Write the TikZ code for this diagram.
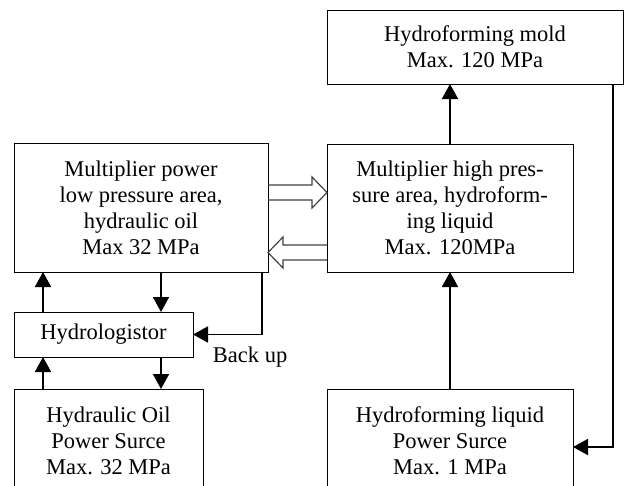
\documentclass[tikz,border=0pt]{standalone}
\usepackage{fontspec}
\setmainfont{Liberation Serif}
\usetikzlibrary{arrows.meta}
\tikzset{
  box/.style={draw, line width=0.7pt, align=center, inner sep=0pt, outer sep=0pt,
              font=\fontsize{16}{18.5}\selectfont},
  arr/.style={-{Triangle[length=0.375cm, width=0.4cm]}, line width=1.3pt},
  fat/.style={draw=black!75, line width=0.85pt, line join=miter},
  lab/.style={font=\fontsize{16}{18.5}\selectfont, inner sep=0pt}
}
\begin{document}
\begin{tikzpicture}
  \clip (0,0) rectangle (15.6,-12.125);
  % left side: hydraulic oil
  \node[box, minimum width=6.35cm, minimum height=3.225cm] (low) at (3.525,-5.1875)
    {Multiplier power\\low pressure area,\\hydraulic oil\\Max 32 MPa};
  \node[box, minimum width=4.475cm, minimum height=1.125cm] (hydro) at (2.5875,-8.3625)
    {Hydrologistor};
  \node[box, minimum width=4.725cm, minimum height=2.6cm] (oil) at (2.7125,-11.025)
    {Hydraulic Oil\\Power Surce\\Max. 32 MPa};
  % right side: hydroforming liquid
  \node[box, minimum width=7.4cm, minimum height=1.85cm] (mold) at (11.875,-1.175)
    {Hydroforming mold\\Max. 120 MPa};
  \node[box, minimum width=6.15cm, minimum height=3.2cm] (high) at (11.25,-5.2)
    {Multiplier high pres-\\sure area, hydroform-\\ing liquid\\Max. 120MPa};
  \node[box, minimum width=6.15cm, minimum height=2.6cm] (liq) at (11.25,-11.025)
    {Hydroforming liquid\\Power Surce\\Max. 1 MPa};

  \draw[arr] ([xshift=0.725cm]hydro.north west) -- ([xshift=0.725cm]low.south west);
  \draw[arr] ([xshift=3.675cm]low.south west) -- ([xshift=3.675cm]hydro.north west);
  \draw[arr] ([xshift=0.725cm]oil.north west) -- ([xshift=0.725cm]hydro.south west);
  \draw[arr] ([xshift=3.675cm]hydro.south west) -- ([xshift=3.675cm]oil.north west);
  \draw[arr] ([xshift=-0.15cm]low.south east) |- (hydro.east)
    node[lab, pos=1, anchor=west, xshift=0.475cm, yshift=-0.56cm] (bk) {Back up};

  \draw[arr] (high.north) -- (high.north |- mold.south);
  \draw[arr] (liq.north) -- (high.south);
  \draw[arr] ([xshift=-0.25cm]mold.south east) |- ([yshift=-0.15cm]liq.east);

  % hollow arrows between the multipliers
  \draw[fat] ([yshift=-1.05cm]low.north east) -- ++(1.1,0) -- ++(0,0.2)
    -- ++(0.375,-0.3875) -- ++(-0.375,-0.3875) -- ++(0,0.2) -- ++(-1.1,0);
  \draw[fat] ([yshift=-2.525cm]high.north west) -- ++(-1.1,0) -- ++(0,0.2)
    -- ++(-0.375,-0.3875) -- ++(0.375,-0.3875) -- ++(0,0.2) -- ++(1.1,0);
\end{tikzpicture}
\end{document}
